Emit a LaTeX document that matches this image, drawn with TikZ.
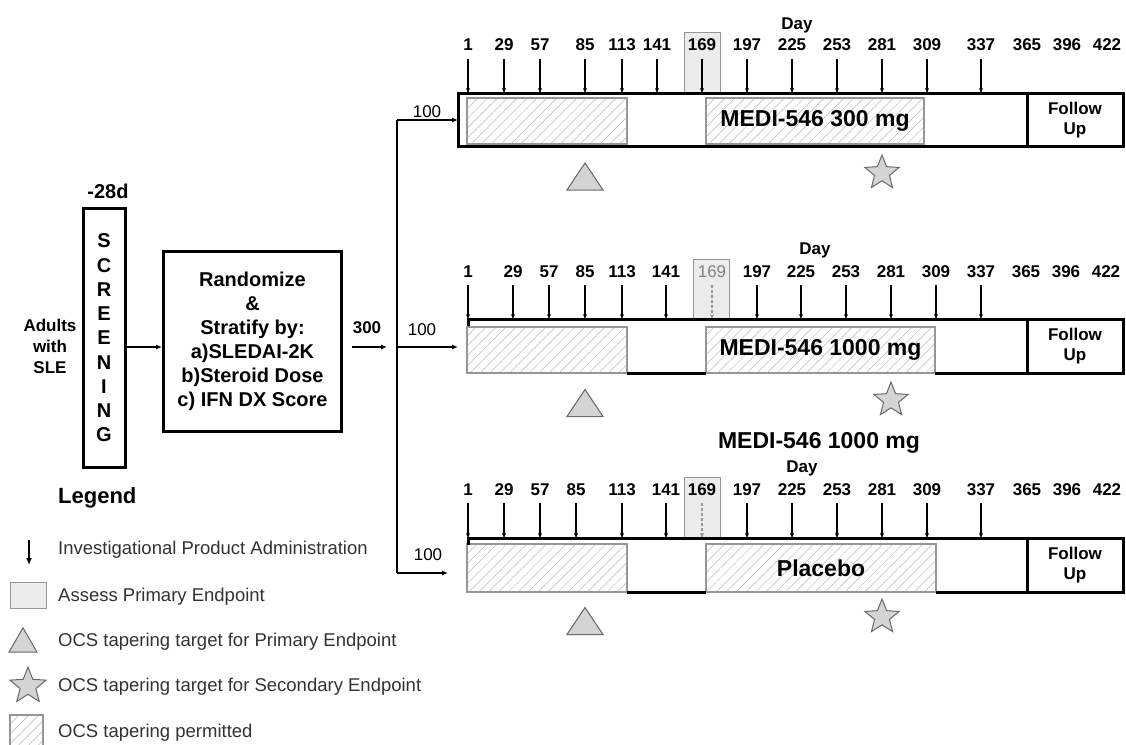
\documentclass[tikz,border=0pt]{standalone}
\usepackage{fontspec}
\setmainfont{Liberation Sans}
\usetikzlibrary{arrows.meta,positioning,shapes.geometric,patterns.meta,calc}
\definecolor{hatchgray}{RGB}{185,185,185}
\definecolor{edgegray}{RGB}{150,150,150}
\definecolor{shade}{RGB}{236,236,236}
\definecolor{markfill}{RGB}{212,212,212}
\definecolor{markedge}{RGB}{105,105,105}
\definecolor{legtext}{RGB}{50,50,50}

\tikzset{
  bar/.style={line width=3pt},
  conn/.style={line width=1.1pt},
  arr/.style={-{Latex[length=6pt,width=5pt]}},
  tick/.style={line width=1.1pt,-{Stealth[length=5pt,width=4pt]}},
  graytick/.style={tick,edgegray,densely dashed},
  hatchbox/.style={draw=edgegray,line width=1.2pt,pattern={Lines[angle=45,distance=7pt,line width=0.5pt]},pattern color=hatchgray},
  assessbox/.style={draw=edgegray,line width=1pt,fill=shade},
  daylbl/.style={font=\fontsize{17}{17}\selectfont\bfseries,inner sep=0pt},
  graylbl/.style={font=\fontsize{17}{17}\selectfont,text=gray,inner sep=0pt},
  numlbl/.style={font=\fontsize{17}{17}\selectfont,inner sep=0pt},
  armlbl/.style={font=\fontsize{23}{23}\selectfont\bfseries,inner sep=0pt},
  fulbl/.style={font=\fontsize{17}{20}\selectfont\bfseries,align=center,inner sep=0pt},
  thickbox/.style={draw,line width=3pt,inner sep=0pt},
  legtxt/.style={font=\fontsize{18.5}{18.5}\selectfont,text=legtext,anchor=west,inner sep=0pt},
  ocsstar/.style={star,star points=5,star point ratio=2.3,minimum size=36pt,inner sep=0pt,draw=markedge,fill=markfill,line width=1pt},
  ocstri/.pic={\draw[markedge,fill=markfill,line width=1pt] (0,-13.5) -- (18,13.5) -- (-18,13.5) -- cycle;}
}

\begin{document}
\begin{tikzpicture}[x=1pt,y=-1pt]
  \useasboundingbox (0,0) rectangle (1126,744);

  % left part
  \node[font=\fontsize{17}{21}\selectfont\bfseries,align=center,inner sep=0pt] (adults) at (50,346) {Adults\\with\\SLE};
  \node[thickbox,minimum width=42,minimum height=259,font=\fontsize{20}{24.25}\selectfont\bfseries,align=center] (screen) at (104,338) {S\\C\\R\\E\\E\\N\\I\\N\\G};
  \node[font=\fontsize{20}{20}\selectfont\bfseries,inner sep=0pt] (minus) at (108,191) {-28d};
  \node[thickbox,minimum width=178,minimum height=180,font=\fontsize{20}{24}\selectfont\bfseries,align=center] (rand) at (252.5,341.5)
    {Randomize\\\&\\Stratify by:\\a)SLEDAI-2K\\b)Steroid Dose\\c) IFN DX Score};

  % branching
  \coordinate (splitT) at (397,120);
  \coordinate (splitM) at (397,347);
  \coordinate (splitB) at (397,573);
  \coordinate (inA) at (458,120);
  \coordinate (inB) at (458,347);
  \coordinate (inC) at (448,573);
  \draw[conn,arr] (screen.east |- splitM) -- (rand.west |- splitM);
  \draw[conn,arr] ([xshift=9pt]rand.east |- splitM) -- ([xshift=-10pt]splitM);
  \node[daylbl] (total) at (367,328) {300};
  \draw[conn] (splitT) -- (splitB);
  \foreach \s/\t in {splitT/inA,splitM/inB,splitB/inC}
    \draw[conn,arr] (\s) -- (\t);
  \node[numlbl] (nA) at (427,112) {100};
  \node[numlbl] (nB) at (422,330) {100};
  \node[numlbl] (nC) at (428,555) {100};

  % arm A
  \coordinate (barA) at (0,93);
  \draw[assessbox] (684,32) rectangle (720,93);
  \foreach \x/\d in {468/1,504/29,540/57,585/85,622/113,657/141,702/169,747/197,792/225,837/253,882/281,927/309,981/337}{
    \node[daylbl] (a\d) at (\x,45) {\d};
    \draw[tick] ([yshift=-8pt]a\d.south) -- (a\d.south |- barA);
  }
  \foreach \x/\d in {1027/365,1067/396,1107/422}
    \node[daylbl] (a\d) at (\x,45) {\d};
  \node[daylbl] (dayA) at (797,25) {Day};
  \draw[hatchbox] (467,98) rectangle (627,144);
  \node[hatchbox,armlbl,minimum width=218,minimum height=46] (medA) at (815,121) {MEDI-546 300 mg};
  \draw[bar] (458,93) rectangle (1123,146);
  \draw[bar] (1027,93) -- (1027,146);
  \node[fulbl] (fuA) at (1075,120) {Follow\\Up};
  \pic at (585,176.5) {ocstri};
  \node[ocsstar] (starA) at (882,173) {};

  % arm B
  \coordinate (barB) at (0,319);
  \draw[assessbox] (693,259) rectangle (729,319);
  \foreach \x/\d in {468/1,513/29,549/57,585/85,622/113,666/141,757/197,801/225,846/253,891/281,936/309,981/337}{
    \node[daylbl] (b\d) at (\x,272) {\d};
    \draw[tick] ([yshift=-7pt]b\d.south) -- (b\d.south |- barB);
  }
  \node[graylbl] (b169) at (712,272) {169};
  \draw[graytick] ([yshift=-7pt]b169.south) -- (b169.south |- barB);
  \foreach \x/\d in {1026/365,1066/396,1106/422}
    \node[daylbl] (b\d) at (\x,272) {\d};
  \node[daylbl] (dayB) at (815,250) {Day};
  \draw[hatchbox] (467,327) rectangle (627,373);
  \node[hatchbox,armlbl,minimum width=229,minimum height=46] (medB) at (820.5,350) {MEDI-546 1000 mg};
  \draw[bar] (468,319) -- (1123,319) -- (1123,373) -- (935,373);
  \draw[bar] (627,373) -- (706,373);
  \draw[bar] (468,318) -- (468,326);
  \draw[bar] (1027,319) -- (1027,373);
  \node[fulbl] (fuB) at (1075,346) {Follow\\Up};
  \pic at (585,403) {ocstri};
  \node[ocsstar] (starB) at (891,400) {};

  \node[armlbl] (titleC) at (819,443) {MEDI-546 1000 mg};

  % arm C
  \coordinate (barC) at (0,538);
  \draw[assessbox] (684,477) rectangle (720,538);
  \foreach \x/\d in {468/1,504/29,540/57,576/85,622/113,666/141,747/197,792/225,837/253,882/281,927/309,981/337}{
    \node[daylbl] (c\d) at (\x,490) {\d};
    \draw[tick] ([yshift=-7pt]c\d.south) -- (c\d.south |- barC);
  }
  \node[daylbl] (c169) at (702,490) {169};
  \draw[graytick] ([yshift=-7pt]c169.south) -- (c169.south |- barC);
  \foreach \x/\d in {1027/365,1067/396,1107/422}
    \node[daylbl] (c\d) at (\x,490) {\d};
  \node[daylbl] (dayC) at (802,468) {Day};
  \draw[hatchbox] (467,544) rectangle (627,592);
  \node[hatchbox,armlbl,minimum width=230,minimum height=48] (plac) at (821,568) {Placebo};
  \draw[bar] (468,538) -- (1123,538) -- (1123,592) -- (936,592);
  \draw[bar] (627,592) -- (706,592);
  \draw[bar] (468,537) -- (468,545);
  \draw[bar] (1027,538) -- (1027,592);
  \node[fulbl] (fuC) at (1075,565) {Follow\\Up};
  \pic at (585,621) {ocstri};
  \node[ocsstar] (starC) at (882,617) {};

  % legend
  \node[font=\fontsize{22}{22}\selectfont\bfseries,anchor=west,inner sep=0pt] (legend) at (58,498) {Legend};
  \draw[line width=1.4pt,-{Latex[length=7pt,width=6pt]}] (29,540) -- (29,565);
  \node[legtxt] (lg1) at (58,550) {Investigational Product Administration};
  \draw[assessbox] (10,582) rectangle (46,608);
  \node[legtxt] (lg2) at (58,597) {Assess Primary Endpoint};
  \pic[xscale=0.78,yscale=0.9] at (23,640) {ocstri};
  \node[legtxt] (lg3) at (58,642) {OCS tapering target for Primary Endpoint};
  \node[ocsstar,minimum size=38pt] (starL) at (28,686) {};
  \node[legtxt] (lg4) at (58,687) {OCS tapering target for Secondary Endpoint};
  \draw[hatchbox] (10,715) rectangle (43,752);
  \node[legtxt] (lg5) at (58,733) {OCS tapering permitted};
\end{tikzpicture}
\end{document}
